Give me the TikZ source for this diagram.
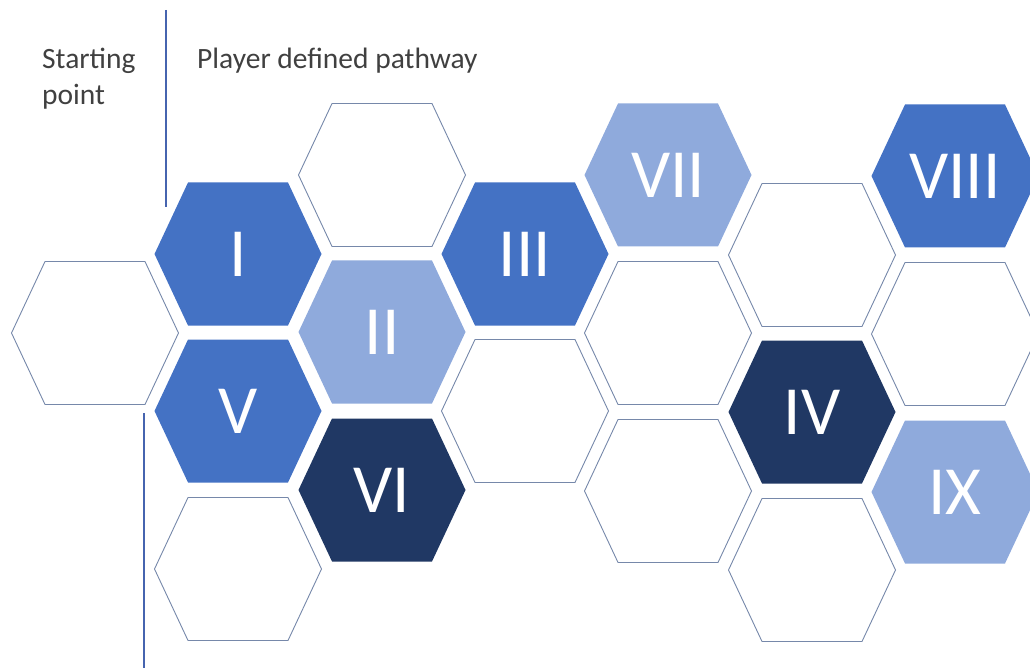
\documentclass[tikz,border=0pt]{standalone}
\usepackage{fontspec}
\setmainfont{Carlito}
\definecolor{bluemid}{HTML}{4472C4}
\definecolor{bluelight}{HTML}{8FAADC}
\definecolor{bluedark}{HTML}{203864}
\definecolor{outlinegray}{RGB}{118,136,170}
\definecolor{linecol}{RGB}{70,100,175}
\definecolor{txtgray}{RGB}{64,64,64}
\newcommand{\hexcell}[5]{% #1 name, #2 x, #3 y, #4 style, #5 label
  \path[#4] (#2-83.5,#3) -- (#2-50,#3-71.5) -- (#2+50,#3-71.5) -- (#2+83.5,#3)
    -- (#2+50,#3+71.5) -- (#2-50,#3+71.5) -- cycle;
  \node[numlabel] (#1) at (#2,#3) {#5};
}
\begin{document}
\begin{tikzpicture}[x=1pt,y=-1pt,
  hexempty/.style={draw=outlinegray,line width=0.9pt,fill=white},
  hexmid/.style={fill=bluemid},
  hexlight/.style={fill=bluelight},
  hexdark/.style={fill=bluedark},
  numlabel/.style={text=white,inner sep=0pt,text height=44.5pt,text depth=0pt,
    font=\fontsize{69}{69}\selectfont},
  lbl/.style={text=txtgray,inner sep=0pt,font=\fontsize{29.5}{33}\selectfont},
  divider/.style={draw=linecol,line width=1.8pt}]
\useasboundingbox (0,0) rectangle (1030,668);
\clip (0,0) rectangle (1030,668);
% column 0
\hexcell{e00}{95}{333}{hexempty}{}
% column 1
\hexcell{h1}{238}{254}{hexmid}{I}
\hexcell{h5}{238}{411}{hexmid}{V}
\hexcell{e12}{238}{569}{hexempty}{}
% column 2
\hexcell{e20}{382}{175}{hexempty}{}
\hexcell{h2}{382}{332}{hexlight}{II}
\hexcell{h6}{382}{490}{hexdark}{VI}
% column 3
\hexcell{h3}{525}{254}{hexmid}{III}
\hexcell{e31}{525}{411}{hexempty}{}
% column 4
\hexcell{h7}{668}{175}{hexlight}{VII}
\hexcell{e41}{668}{333}{hexempty}{}
\hexcell{e42}{668}{491}{hexempty}{}
% column 5
\hexcell{e50}{812}{255}{hexempty}{}
\hexcell{h4}{812}{412}{hexdark}{IV}
\hexcell{e52}{812}{570}{hexempty}{}
% column 6
\hexcell{h8}{955}{176}{hexmid}{VIII}
\hexcell{e61}{955}{334}{hexempty}{}
\hexcell{h9}{955}{492}{hexlight}{IX}
% labels
\node[lbl,anchor=base west] (start1) at (42,69) {Starting};
\node[lbl,anchor=base west] (start2) at (42,105) {point};
\node[lbl,anchor=base west] (path) at (197,69) {Player defined pathway};
% dividers
\coordinate (d1a) at (166,10);
\coordinate (d1b) at (166,207);
\coordinate (d2a) at (144,413);
\coordinate (d2b) at (144,668);
\draw[divider] (d1a) -- (d1b);
\draw[divider] (d2a) -- (d2b);
\end{tikzpicture}
\end{document}
